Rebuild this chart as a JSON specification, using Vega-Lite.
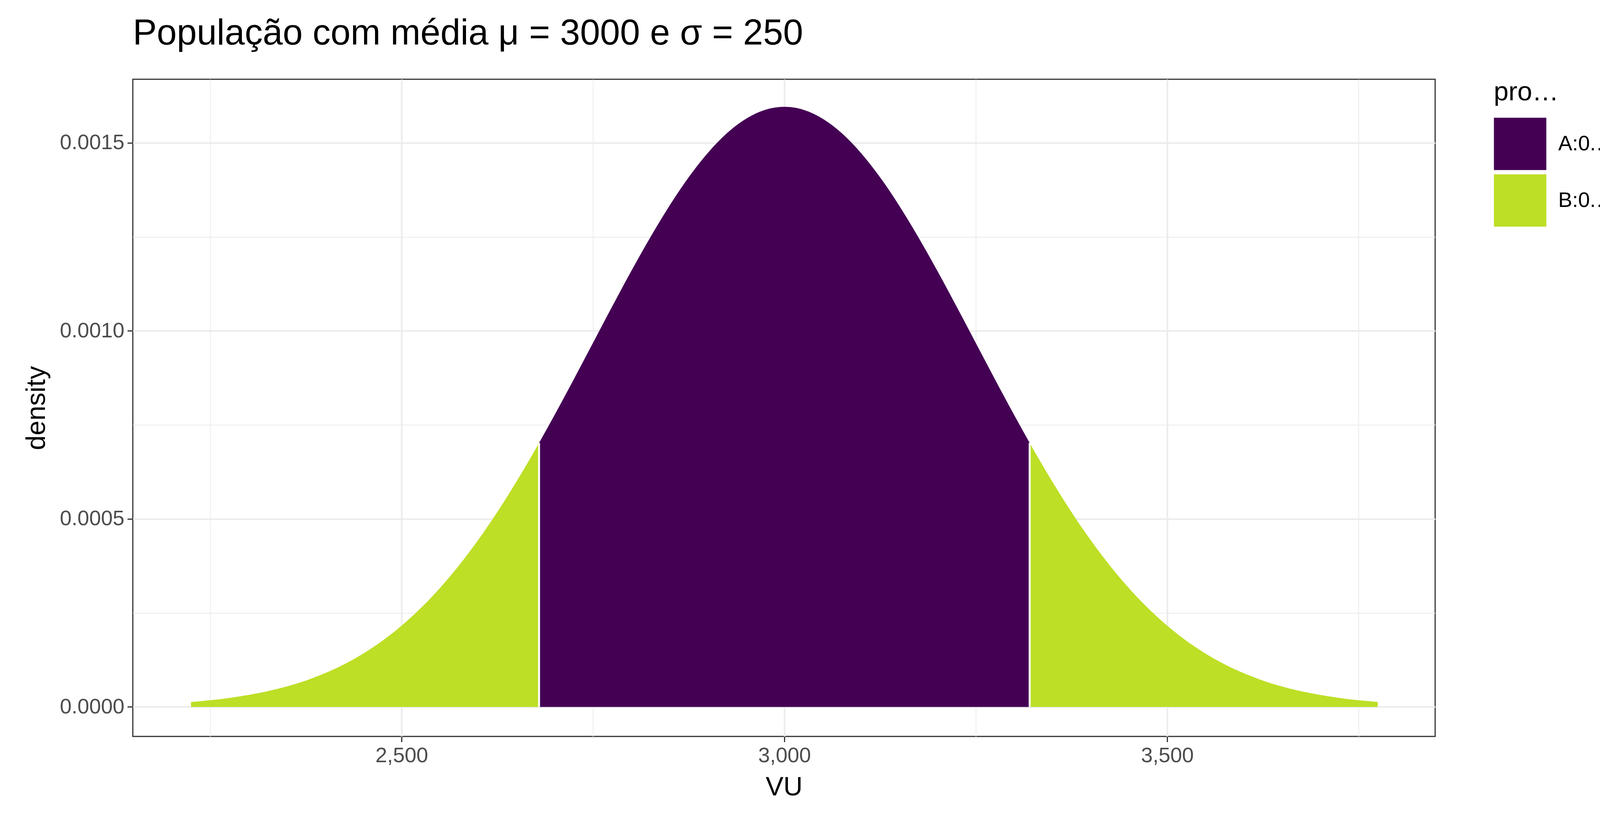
{
  "$schema": "https://vega.github.io/schema/vega-lite/v6.json",
  "autosize": {"type": "fit", "contains": "padding"},
  "width": 4200,
  "height": 2100,
  "padding": {"left": 60, "top": 40, "right": 60, "bottom": 50},
  "background": "white",
  "title": {
    "text": "População com média μ = 3000 e σ = 250",
    "anchor": "start",
    "frame": "group",
    "fontSize": 92,
    "font": "Liberation Sans",
    "fontWeight": "normal",
    "color": "black",
    "offset": 70
  },
  "config": {
    "view": {"stroke": "#333333", "strokeWidth": 3},
    "font": "Liberation Sans",
    "axis": {
      "gridColor": "#ebebeb",
      "domain": false,
      "tickColor": "#333333",
      "tickWidth": 3,
      "labelFontSize": 54,
      "labelColor": "#4d4d4d",
      "titleFontSize": 68,
      "titleFontWeight": "normal",
      "titleColor": "black",
      "labelFont": "Liberation Sans",
      "titleFont": "Liberation Sans"
    }
  },
  "datasets": {
    "curve": [
      {"part": "L", "probability": "B:0.2000000", "VU": 2225, "density": 0.0000131},
      {"part": "L", "probability": "B:0.2000000", "VU": 2250, "density": 0.0000177},
      {"part": "L", "probability": "B:0.2000000", "VU": 2275, "density": 0.0000238},
      {"part": "L", "probability": "B:0.2000000", "VU": 2300, "density": 0.0000317},
      {"part": "L", "probability": "B:0.2000000", "VU": 2325, "density": 0.0000417},
      {"part": "L", "probability": "B:0.2000000", "VU": 2350, "density": 0.0000543},
      {"part": "L", "probability": "B:0.2000000", "VU": 2375, "density": 0.0000701},
      {"part": "L", "probability": "B:0.2000000", "VU": 2400, "density": 0.0000896},
      {"part": "L", "probability": "B:0.2000000", "VU": 2425, "density": 0.0001133},
      {"part": "L", "probability": "B:0.2000000", "VU": 2450, "density": 0.0001419},
      {"part": "L", "probability": "B:0.2000000", "VU": 2475, "density": 0.0001759},
      {"part": "L", "probability": "B:0.2000000", "VU": 2500, "density": 0.0002160},
      {"part": "L", "probability": "B:0.2000000", "VU": 2525, "density": 0.0002625},
      {"part": "L", "probability": "B:0.2000000", "VU": 2550, "density": 0.0003158},
      {"part": "L", "probability": "B:0.2000000", "VU": 2575, "density": 0.0003762},
      {"part": "L", "probability": "B:0.2000000", "VU": 2600, "density": 0.0004437},
      {"part": "L", "probability": "B:0.2000000", "VU": 2625, "density": 0.0005181},
      {"part": "L", "probability": "B:0.2000000", "VU": 2650, "density": 0.0005989},
      {"part": "L", "probability": "B:0.2000000", "VU": 2675, "density": 0.0006855},
      {"part": "L", "probability": "B:0.2000000", "VU": 2679.6, "density": 0.0007020},
      {"part": "M", "probability": "A:0.8000000", "VU": 2679.6, "density": 0.0007020},
      {"part": "M", "probability": "A:0.8000000", "VU": 2700, "density": 0.0007768},
      {"part": "M", "probability": "A:0.8000000", "VU": 2725, "density": 0.0008714},
      {"part": "M", "probability": "A:0.8000000", "VU": 2750, "density": 0.0009679},
      {"part": "M", "probability": "A:0.8000000", "VU": 2775, "density": 0.0010644},
      {"part": "M", "probability": "A:0.8000000", "VU": 2800, "density": 0.0011588},
      {"part": "M", "probability": "A:0.8000000", "VU": 2825, "density": 0.0012490},
      {"part": "M", "probability": "A:0.8000000", "VU": 2850, "density": 0.0013329},
      {"part": "M", "probability": "A:0.8000000", "VU": 2875, "density": 0.0014083},
      {"part": "M", "probability": "A:0.8000000", "VU": 2900, "density": 0.0014731},
      {"part": "M", "probability": "A:0.8000000", "VU": 2925, "density": 0.0015256},
      {"part": "M", "probability": "A:0.8000000", "VU": 2950, "density": 0.0015642},
      {"part": "M", "probability": "A:0.8000000", "VU": 2975, "density": 0.0015878},
      {"part": "M", "probability": "A:0.8000000", "VU": 3000, "density": 0.0015958},
      {"part": "M", "probability": "A:0.8000000", "VU": 3025, "density": 0.0015878},
      {"part": "M", "probability": "A:0.8000000", "VU": 3050, "density": 0.0015642},
      {"part": "M", "probability": "A:0.8000000", "VU": 3075, "density": 0.0015256},
      {"part": "M", "probability": "A:0.8000000", "VU": 3100, "density": 0.0014731},
      {"part": "M", "probability": "A:0.8000000", "VU": 3125, "density": 0.0014083},
      {"part": "M", "probability": "A:0.8000000", "VU": 3150, "density": 0.0013329},
      {"part": "M", "probability": "A:0.8000000", "VU": 3175, "density": 0.0012490},
      {"part": "M", "probability": "A:0.8000000", "VU": 3200, "density": 0.0011588},
      {"part": "M", "probability": "A:0.8000000", "VU": 3225, "density": 0.0010644},
      {"part": "M", "probability": "A:0.8000000", "VU": 3250, "density": 0.0009679},
      {"part": "M", "probability": "A:0.8000000", "VU": 3275, "density": 0.0008714},
      {"part": "M", "probability": "A:0.8000000", "VU": 3300, "density": 0.0007768},
      {"part": "M", "probability": "A:0.8000000", "VU": 3320.4, "density": 0.0007020},
      {"part": "R", "probability": "B:0.2000000", "VU": 3320.4, "density": 0.0007020},
      {"part": "R", "probability": "B:0.2000000", "VU": 3325, "density": 0.0006855},
      {"part": "R", "probability": "B:0.2000000", "VU": 3350, "density": 0.0005989},
      {"part": "R", "probability": "B:0.2000000", "VU": 3375, "density": 0.0005181},
      {"part": "R", "probability": "B:0.2000000", "VU": 3400, "density": 0.0004437},
      {"part": "R", "probability": "B:0.2000000", "VU": 3425, "density": 0.0003762},
      {"part": "R", "probability": "B:0.2000000", "VU": 3450, "density": 0.0003158},
      {"part": "R", "probability": "B:0.2000000", "VU": 3475, "density": 0.0002625},
      {"part": "R", "probability": "B:0.2000000", "VU": 3500, "density": 0.0002160},
      {"part": "R", "probability": "B:0.2000000", "VU": 3525, "density": 0.0001759},
      {"part": "R", "probability": "B:0.2000000", "VU": 3550, "density": 0.0001419},
      {"part": "R", "probability": "B:0.2000000", "VU": 3575, "density": 0.0001133},
      {"part": "R", "probability": "B:0.2000000", "VU": 3600, "density": 0.0000896},
      {"part": "R", "probability": "B:0.2000000", "VU": 3625, "density": 0.0000701},
      {"part": "R", "probability": "B:0.2000000", "VU": 3650, "density": 0.0000543},
      {"part": "R", "probability": "B:0.2000000", "VU": 3675, "density": 0.0000417},
      {"part": "R", "probability": "B:0.2000000", "VU": 3700, "density": 0.0000317},
      {"part": "R", "probability": "B:0.2000000", "VU": 3725, "density": 0.0000238},
      {"part": "R", "probability": "B:0.2000000", "VU": 3750, "density": 0.0000177},
      {"part": "R", "probability": "B:0.2000000", "VU": 3775, "density": 0.0000131}
    ],
    "cuts": [
      {"VU": 2679.6, "density": 0.0007020},
      {"VU": 3320.4, "density": 0.0007020}
    ]
  },
  "layer": [
    {
      "data": {"name": "curve"},
      "mark": {"type": "area", "interpolate": "monotone"},
      "encoding": {
        "x": {
          "field": "VU", "type": "quantitative",
          "scale": {"domain": [2149, 3850], "nice": false, "zero": false},
          "axis": {
            "values": [2250, 2500, 2750, 3000, 3250, 3500, 3750],
            "labelExpr": "datum.value % 500 == 0 ? datum.label : ''",
            "gridWidth": {"condition": {"test": "datum.value % 500 != 0", "value": 2}, "value": 4},
            "tickSize": {"condition": {"test": "datum.value % 500 != 0", "value": 0}, "value": 14},
            "labelPadding": 8,
            "titlePadding": 20,
            "labelFlush": false
          }
        },
        "y": {
          "field": "density", "type": "quantitative",
          "scale": {"domain": [-0.0000785, 0.001669], "nice": false, "zero": false},
          "axis": {
            "values": [0, 0.00025, 0.0005, 0.00075, 0.001, 0.00125, 0.0015],
            "labelExpr": "abs(datum.value * 2000 - round(datum.value * 2000)) < 0.01 ? format(datum.value, '.4f') : ''",
            "gridWidth": {"condition": {"test": "abs(datum.value * 2000 - round(datum.value * 2000)) > 0.01", "value": 2}, "value": 4},
            "tickSize": {"condition": {"test": "abs(datum.value * 2000 - round(datum.value * 2000)) > 0.01", "value": 0}, "value": 14},
            "labelPadding": 8,
            "titlePadding": 24
          }
        },
        "y2": {"datum": 0},
        "detail": {"field": "part"},
        "color": {
          "field": "probability", "type": "nominal",
          "scale": {"domain": ["A:0.8000000", "B:0.2000000"], "range": ["#440154", "#bddf26"]},
          "legend": {
            "orient": "right",
            "offset": 150,
            "padding": 0,
            "title": "probability",
            "titleFontSize": 68,
            "titleFontWeight": "normal",
            "titleColor": "black",
            "titlePadding": 30,
            "labelFontSize": 54,
            "labelColor": "black",
            "labelOffset": 30,
            "symbolType": "square",
            "symbolSize": 18000,
            "symbolStrokeWidth": 0,
            "symbolOpacity": 1,
            "rowPadding": 10
          }
        }
      }
    },
    {
      "data": {"name": "cuts"},
      "mark": {"type": "rule", "color": "white", "strokeWidth": 5},
      "encoding": {
        "x": {"field": "VU", "type": "quantitative"},
        "y": {"field": "density", "type": "quantitative"},
        "y2": {"datum": 0}
      }
    }
  ]
}
